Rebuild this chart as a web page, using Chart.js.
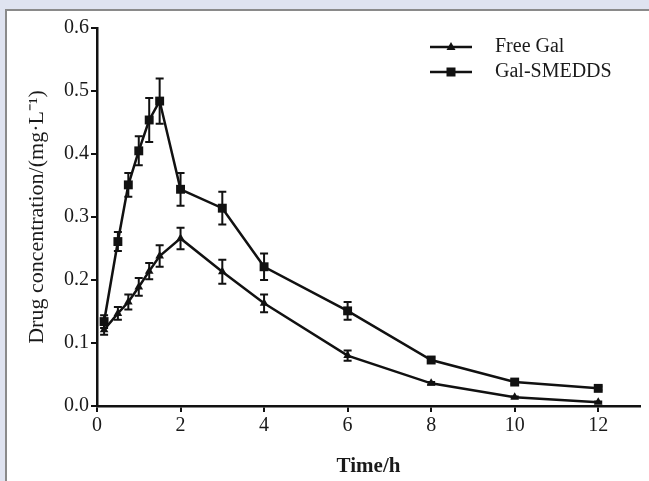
<!DOCTYPE html>
<html>
<head>
<meta charset="utf-8">
<script src="https://cdn.jsdelivr.net/npm/chart.js@4/dist/chart.umd.min.js"></script>
<style>
  html, body { margin: 0; padding: 0; background: #dfe3f0; }
  #wrap { position: relative; width: 649px; height: 481px; overflow: hidden; }
  #panel { position: absolute; left: 5px; top: 9px; width: 660px; height: 480px; background: #fff; border-top: 2px solid #8a8a8a; border-left: 2px solid #8a8a8a; }
  #c { position: absolute; left: 0; top: 0; }
</style>
</head>
<body>
<div id="wrap">
  <div id="panel"></div>
  <canvas id="c" width="649" height="481"></canvas>
</div>
<script>
// ---- data ----
const times = [0.17, 0.5, 0.75, 1, 1.25, 1.5, 2, 3, 4, 6, 8, 10, 12];
const freeGal = [0.121, 0.147, 0.165, 0.189, 0.214, 0.238, 0.266, 0.213, 0.163, 0.080, 0.036, 0.014, 0.006];
const freeGalErr = [0.008, 0.010, 0.012, 0.014, 0.013, 0.017, 0.017, 0.019, 0.014, 0.008, 0.002, 0.001, 0.001];
const galSmedds = [0.134, 0.261, 0.351, 0.405, 0.454, 0.484, 0.344, 0.314, 0.221, 0.151, 0.073, 0.038, 0.028];
const galSmeddsErr = [0.010, 0.015, 0.019, 0.023, 0.035, 0.036, 0.026, 0.026, 0.021, 0.014, 0.004, 0.003, 0.003];
const xTicks = [0, 2, 4, 6, 8, 10, 12];
const yTicks = [0, 0.1, 0.2, 0.3, 0.4, 0.5, 0.6];
const seriesNames = ['Free Gal', 'Gal-SMEDDS'];

const INK = '#111';
const TXT = '#1a1a1a';
const SERIF = '"Liberation Serif", "Times New Roman", serif';

function pts(xs, ys, es) { return xs.map((x, i) => ({ x: x, y: ys[i], e: es[i] })); }

const errorBars = {
  id: 'errorBars',
  beforeDatasetsDraw(chart) {
    const ctx = chart.ctx, ys = chart.scales.y;
    ctx.save();
    ctx.strokeStyle = INK; ctx.lineWidth = 2;
    chart.data.datasets.forEach((ds, di) => {
      const meta = chart.getDatasetMeta(di);
      meta.data.forEach((el, i) => {
        const d = ds.data[i];
        const top = ys.getPixelForValue(d.y + d.e);
        const bot = ys.getPixelForValue(d.y - d.e);
        const cap = 4;
        ctx.beginPath();
        ctx.moveTo(el.x, top); ctx.lineTo(el.x, bot);
        ctx.moveTo(el.x - cap, top); ctx.lineTo(el.x + cap, top);
        ctx.moveTo(el.x - cap, bot); ctx.lineTo(el.x + cap, bot);
        ctx.stroke();
      });
    });
    ctx.restore();
  }
};

const customLegend = {
  id: 'customLegend',
  afterDraw(chart) {
    const ctx = chart.ctx;
    ctx.save();
    const x0 = 430, x1 = 472, tx = 495, y0 = 47, dy = 25;
    chart.data.datasets.forEach((ds, i) => {
      const y = y0 + i * dy;
      ctx.strokeStyle = INK; ctx.lineWidth = 2.5;
      ctx.beginPath(); ctx.moveTo(x0, y); ctx.lineTo(x1, y); ctx.stroke();
      const mx = (x0 + x1) / 2;
      ctx.fillStyle = INK;
      ctx.beginPath();
      if (ds.pointStyle === 'triangle') {
        ctx.moveTo(mx, y - 5); ctx.lineTo(mx + 4.5, y + 3); ctx.lineTo(mx - 4.5, y + 3); ctx.closePath();
      } else {
        ctx.rect(mx - 4.5, y - 4.5, 9, 9);
      }
      ctx.fill();
      ctx.font = '20px ' + SERIF;
      ctx.textBaseline = 'middle';
      ctx.fillStyle = TXT;
      ctx.fillText(ds.label, tx, y);
    });
    ctx.restore();
  }
};

new Chart(document.getElementById('c'), {
  type: 'line',
  data: {
    datasets: [
      { label: seriesNames[0], data: pts(times, freeGal, freeGalErr), borderColor: INK, backgroundColor: INK,
        borderWidth: 2.5, pointStyle: 'triangle', pointRadius: 5, pointBorderWidth: 0, tension: 0 },
      { label: seriesNames[1], data: pts(times, galSmedds, galSmeddsErr), borderColor: INK, backgroundColor: INK,
        borderWidth: 2.5, pointStyle: 'rect', pointRadius: 6.3, pointBorderWidth: 0, tension: 0 }
    ]
  },
  options: {
    responsive: false,
    animation: false,
    devicePixelRatio: 1,
    layout: { padding: { top: 28, right: 9, left: 0, bottom: 0 } },
    plugins: { legend: { display: false }, tooltip: { enabled: false } },
    scales: {
      x: {
        type: 'linear', min: 0, max: 13,
        afterBuildTicks(s) { s.ticks = xTicks.map(v => ({ value: v })); },
        afterFit(s) { s.height = 75; },
        grid: { display: true, drawOnChartArea: false, drawTicks: true, tickLength: 6, color: INK, lineWidth: 2 },
        border: { display: true, color: INK, width: 2.5 },
        ticks: { color: TXT, font: { family: SERIF, size: 20 }, padding: 2, maxRotation: 0, callback: v => String(v) },
        title: { display: true, text: 'Time/h', color: TXT, font: { family: SERIF, size: 21, weight: 'bold' }, padding: { top: 0, bottom: 2 } }
      },
      y: {
        type: 'linear', min: 0, max: 0.6,
        afterBuildTicks(s) { s.ticks = yTicks.map(v => ({ value: v })); },
        afterFit(s) { s.width = 97; },
        grid: { display: true, drawOnChartArea: false, drawTicks: true, tickLength: 6, color: INK, lineWidth: 2 },
        border: { display: true, color: INK, width: 2.5 },
        ticks: { color: TXT, font: { family: SERIF, size: 20 }, padding: 2, callback: v => Number(v).toFixed(1) },
        title: { display: true, text: 'Drug concentration/(mg·L⁻¹)', color: TXT, font: { family: SERIF, size: 22 }, padding: { top: 24, bottom: 0 } }
      }
    }
  },
  plugins: [errorBars, customLegend]
});
</script>
</body>
</html>
